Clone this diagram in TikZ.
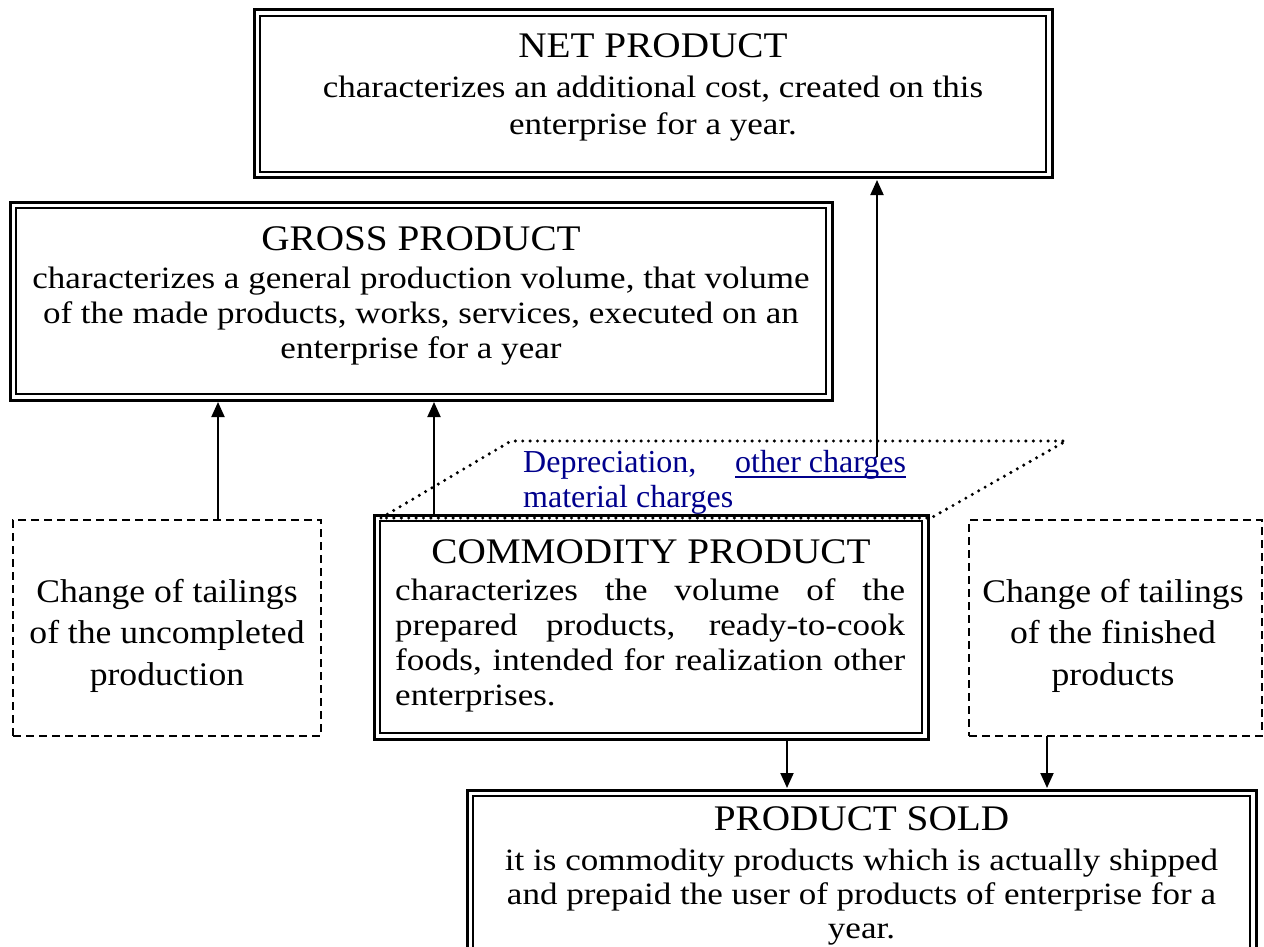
\documentclass[tikz,border=0pt]{standalone}
\usepackage{fontspec}
\setmainfont{Liberation Serif}
\newfontfamily\titlef[FakeStretch=1.09]{Liberation Serif}
\newfontfamily\bodyf[FakeStretch=1.13]{Liberation Serif}
\newfontfamily\sidef[FakeStretch=1.08]{Liberation Serif}
\usetikzlibrary{arrows.meta}
\definecolor{navyT}{RGB}{0,0,140}
\begin{document}
\begin{tikzpicture}[x=1pt,y=-1pt,
  outerbox/.style={draw, line width=3pt, rectangle, inner sep=0pt, outer sep=0pt},
  innerline/.style={line width=1.8pt},
  dashbox/.style={draw, line width=1.6pt, dash pattern=on 8pt off 5pt, rectangle, inner sep=0pt, outer sep=0pt},
  titletxt/.style={inner sep=0pt, anchor=base, font=\titlef\fontsize{36}{40}\selectfont},
  bodytxt/.style={inner sep=0pt, anchor=base, font=\bodyf\fontsize{31}{35}\selectfont},
  sidetxt/.style={inner sep=0pt, anchor=base, font=\sidef\fontsize{33}{40}\selectfont},
  bluetxt/.style={inner sep=0pt, anchor=base west, text=navyT, font=\fontsize{32}{36}\selectfont},
  arr/.style={line width=1.9pt, -{Triangle[length=15pt,width=13pt]}, shorten >=2pt},
  dotline/.style={line width=3.4pt, line cap=round, dash pattern=on 0pt off 7.4pt}
]
\useasboundingbox (0,0) rectangle (1264,947);
\clip (0,0) rectangle (1264,947);

% boxes
\node[outerbox, minimum width=798pt, minimum height=168pt] (net) at (653,94) {};
\node[outerbox, minimum width=822pt, minimum height=198pt] (gross) at (421,301) {};
\node[outerbox, minimum width=554pt, minimum height=224pt] (comm) at (651,627) {};
\node[outerbox, minimum width=789pt, minimum height=195pt] (sold) at (861.5,887.5) {};
\node[dashbox, minimum width=308pt, minimum height=216pt] (lchg) at (167,628) {};
\node[dashbox, minimum width=293pt, minimum height=216pt] (rchg) at (1115.5,628) {};
\foreach \b in {net,gross,comm,sold}
  \draw[innerline] ([shift={(6,6)}]\b.north west) rectangle ([shift={(-6,-6)}]\b.south east);

% dotted parallelogram
\draw[dotline] (381,518) -- (511,441) -- (1066,441) -- (931,518) -- cycle;

% texts: net
\node[titletxt] (nett) at (653,58) {NET PRODUCT};
\node[bodytxt] (net1) at (653,98) {characterizes an additional cost, created on this};
\node[bodytxt] (net2) at (653,135) {enterprise for a year.};
% gross
\node[titletxt] (grt) at (421,250) {GROSS PRODUCT};
\node[bodytxt] (gr1) at (421,288) {characterizes a general production volume, that volume};
\node[bodytxt] (gr2) at (421,323) {of the made products, works, services, executed on an};
\node[bodytxt] (gr3) at (421,358) {enterprise for a year};
% commodity
\node[titletxt] (cot) at (651,563) {COMMODITY PRODUCT};
\node[bodytxt, anchor=base west] (co1) at (395,600) {\makebox[510pt][s]{characterizes the volume of the}};
\node[bodytxt, anchor=base west] (co2) at (395,635) {\makebox[510pt][s]{prepared products, ready-to-cook}};
\node[bodytxt, anchor=base west] (co3) at (395,670) {\makebox[510pt][s]{foods, intended for realization other}};
\node[bodytxt, anchor=base west] (co4) at (395,705) {enterprises.};
% sold
\node[titletxt] (sot) at (861.5,830) {PRODUCT SOLD};
\node[bodytxt] (so1) at (861.5,870) {it is commodity products which is actually shipped};
\node[bodytxt] (so2) at (861.5,904) {and prepaid the user of products of enterprise for a};
\node[bodytxt] (so3) at (861.5,938) {year.};
% side boxes
\node[sidetxt] (l1) at (167,602) {Change of tailings};
\node[sidetxt] (l2) at (167,643) {of the uncompleted};
\node[sidetxt] (l3) at (167,685) {production};
\node[sidetxt] (r1) at (1113,602) {Change of tailings};
\node[sidetxt] (r2) at (1113,643) {of the finished};
\node[sidetxt] (r3) at (1113,685) {products};
% blue labels
\node[bluetxt] (dep) at (523,472) {Depreciation,};
\node[bluetxt] (oth) at (735,472) {other charges};
\node[bluetxt] (mat) at (523,507) {material charges};
\draw[navyT, line width=1.8pt] ([yshift=-5pt]oth.base west) -- ([yshift=-5pt]oth.base east);

% arrows
\coordinate (a1s) at ([xshift=51pt]lchg.north);
\draw[arr] (a1s) -- (a1s |- gross.south);
\coordinate (a2s) at ([xshift=-217pt]comm.north);
\draw[arr] (a2s) -- (a2s |- gross.south);
\coordinate (netsrc) at (877,457);
\draw[arr] (netsrc) -- (netsrc |- net.south);
\coordinate (a4s) at ([xshift=136pt]comm.south);
\draw[arr] (a4s) -- (a4s |- sold.north);
\coordinate (a5s) at ([xshift=-68.5pt]rchg.south);
\draw[arr] (a5s) -- (a5s |- sold.north);
\end{tikzpicture}
\end{document}
